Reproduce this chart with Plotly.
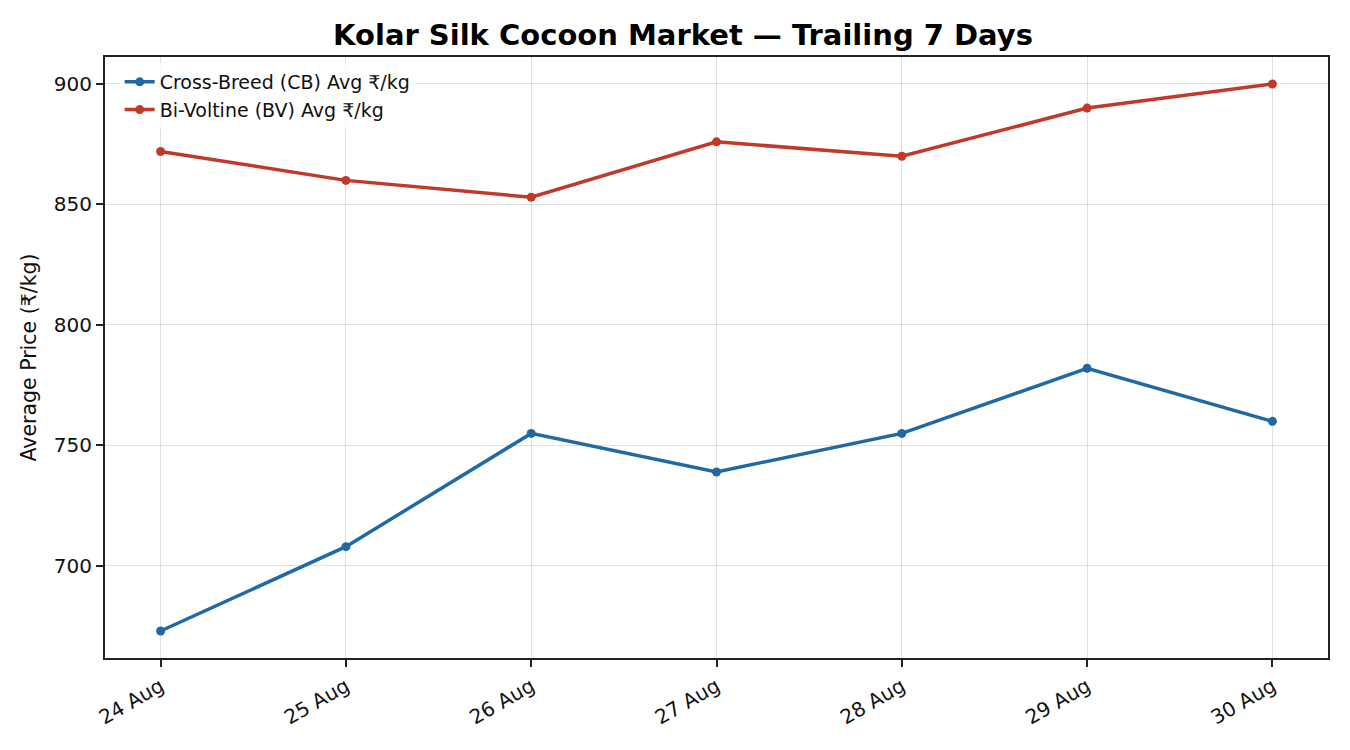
import plotly.graph_objects as go

# Trailing 7 days of market prices
days = ["24 Aug", "25 Aug", "26 Aug", "27 Aug", "28 Aug", "29 Aug", "30 Aug"]
cb_price = [673, 708, 755, 739, 755, 782, 760]
bv_price = [872, 860, 853, 876, 870, 890, 900]

blue = "#1f6aa5"
red = "#c0392b"

data = [
    go.Scatter(x=days, y=cb_price, name="Cross-Breed (CB) Avg ₹/kg",
               mode="lines+markers", line=dict(color=blue, width=3.5),
               marker=dict(color=blue, size=9)),
    go.Scatter(x=days, y=bv_price, name="Bi-Voltine (BV) Avg ₹/kg",
               mode="lines+markers", line=dict(color=red, width=3.5),
               marker=dict(color=red, size=9)),
]

axis_style = dict(showline=True, linecolor="#222", linewidth=2, mirror=True,
                  ticks="outside", ticklen=7, tickwidth=2, tickcolor="#222",
                  showgrid=True, gridcolor="rgba(0,0,0,0.12)", gridwidth=1.2,
                  zeroline=False, tickfont=dict(size=20, color="#111"))

# page body adds ~8px offset, margins compensate
layout = go.Layout(
    width=1350, height=750,
    font=dict(family="DejaVu Sans", color="#111"),
    title=dict(text="<b>Kolar Silk Cocoon Market — Trailing 7 Days</b>",
               x=0.5, xanchor="center", y=0.964, yanchor="middle",
               font=dict(size=29, color="#000")),
    plot_bgcolor="white", paper_bgcolor="white",
    margin=dict(l=97, r=30, t=49, b=100),
    xaxis=dict(type="category", range=[-0.3, 6.3], tickangle=-30, **axis_style),
    yaxis=dict(title=dict(text="Average Price (₹/kg)", font=dict(size=20.5), standoff=12),
               range=[661.8, 911.2], tickvals=[700, 750, 800, 850, 900], **axis_style),
    legend=dict(x=0.012, y=0.99, xanchor="left", yanchor="top",
                bgcolor="rgba(255,255,255,0.8)", borderwidth=0,
                font=dict(size=19, color="#111")),
    showlegend=True,
)

fig = go.Figure(data=data, layout=layout)
fig.write_html("out.html")
